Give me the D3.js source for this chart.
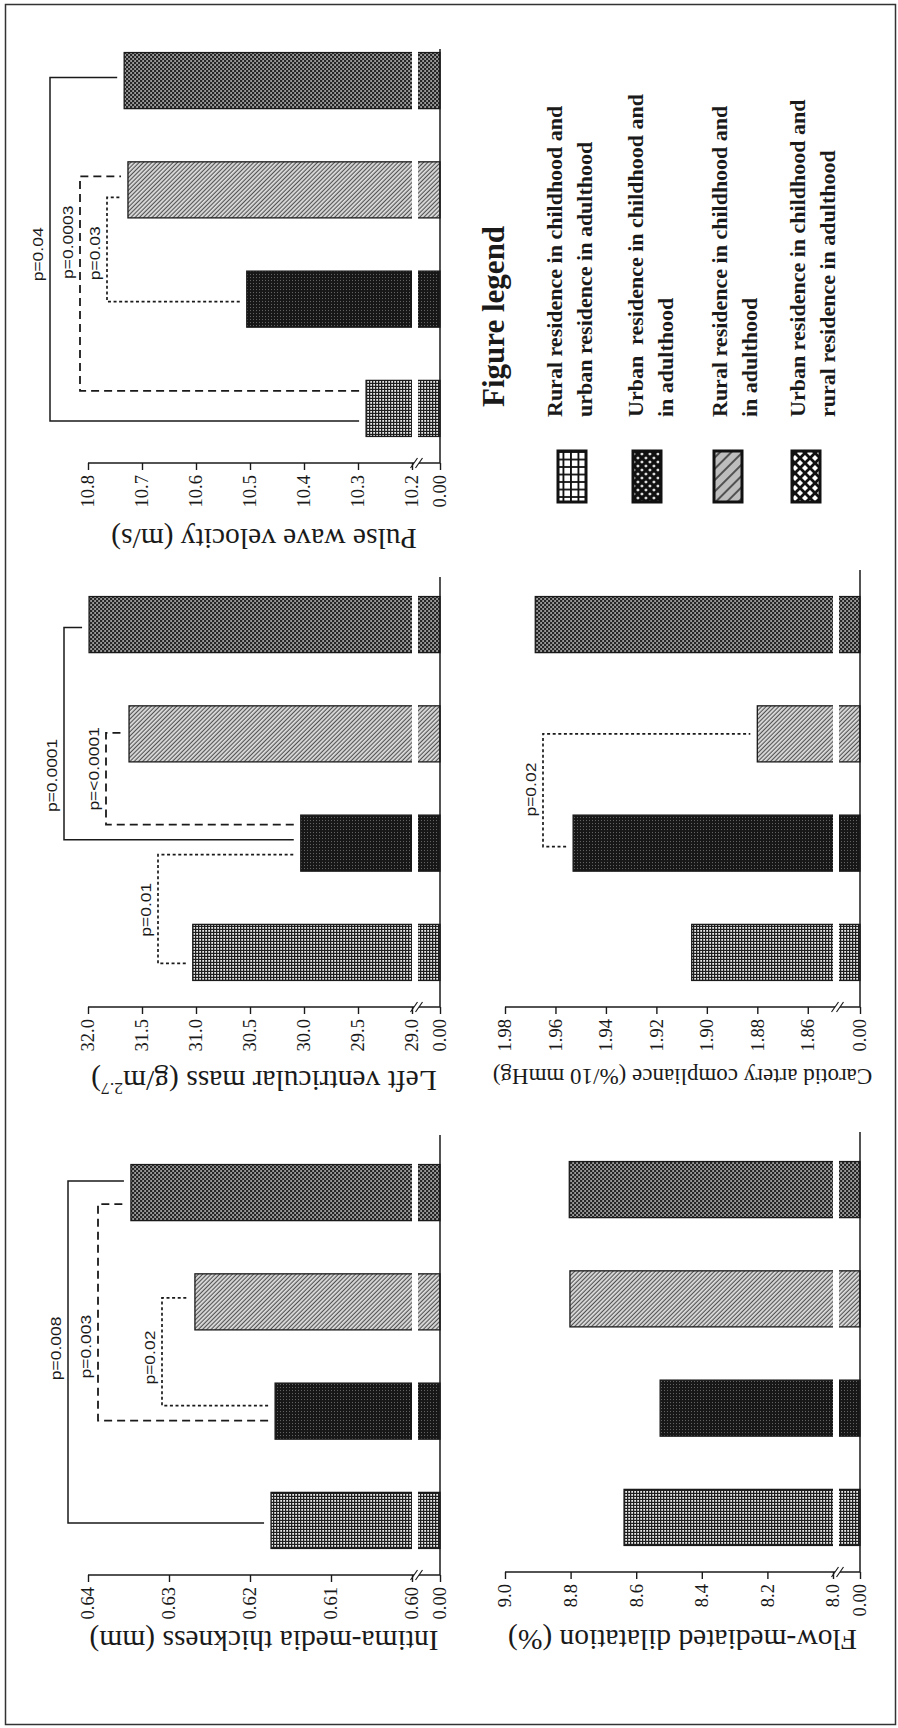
<!DOCTYPE html>
<html>
<head>
<meta charset="utf-8">
<script src="https://cdn.jsdelivr.net/npm/d3@7"></script>
<style>
  body { margin: 0; background: #fff; }
  text { white-space: pre; }
</style>
</head>
<body>
<div id="chart"></div>
<script>
// groups, in bar order
var groups = ["rural-urban", "urban-urban", "rural-rural", "urban-rural"];
var legendLines = [
  ["Rural residence in childhood and", "urban residence in adulthood"],
  ["Urban  residence in childhood and", "in adulthood"],
  ["Rural residence in childhood and", "in adulthood"],
  ["Urban residence in childhood and", "rural residence in adulthood"]
];

// values
var imtValues = [0.6174, 0.6169, 0.6268, 0.6347];
var lvmValues = [31.03, 30.03, 31.62, 31.99];
var pwvValues = [10.285, 10.506, 10.726, 10.733];
var fmdValues = [8.637, 8.527, 8.802, 8.804];
var cacValues = [1.906, 1.953, 1.880, 1.968];

// axis ticks (above the break) and domains
var imtTicks = ["0.60", "0.61", "0.62", "0.63", "0.64"];
var lvmTicks = ["29.0", "29.5", "30.0", "30.5", "31.0", "31.5", "32.0"];
var pwvTicks = ["10.2", "10.3", "10.4", "10.5", "10.6", "10.7", "10.8"];
var fmdTicks = ["8.0", "8.2", "8.4", "8.6", "8.8", "9.0"];
var cacTicks = ["1.86", "1.88", "1.90", "1.92", "1.94", "1.96", "1.98"];
var zeroTick = ["0.00"];
var imtDomain = [0.60, 0.64];
var lvmDomain = [29, 32];
var pwvDomain = [10.2, 10.8];
var fmdDomain = [8.0, 9.0];
var cacDomain = [1.85, 1.98];

// comparisons: bar index a vs b
var imtTests = [
  {a: 0, b: 3, p: "p=0.008", kind: "solid"},
  {a: 1, b: 3, p: "p=0.003", kind: "dashed"},
  {a: 1, b: 2, p: "p=0.02", kind: "dotted"}
];
var lvmTests = [
  {a: 1, b: 3, p: "p=0.0001", kind: "solid"},
  {a: 1, b: 2, p: "p=<0.0001", kind: "dashed"},
  {a: 0, b: 1, p: "p=0.01", kind: "dotted"}
];
var pwvTests = [
  {a: 0, b: 3, p: "p=0.04", kind: "solid"},
  {a: 0, b: 2, p: "p=0.0003", kind: "dashed"},
  {a: 1, b: 2, p: "p=0.03", kind: "dotted"}
];
var fmdTests = [];
var cacTests = [
  {a: 1, b: 2, p: "p=0.02", kind: "dotted"}
];

// ---- layout (the figure is drawn landscape, then turned a quarter left) ----
var W = 898, H = 1728;
var rows = [
  {top: 88, low: 412, base: 440},
  {top: 505, low: 833, base: 860}
];
var bracketLayout = {
  imt: [{level: 68, offA: -2.5, offB: 11.5, at: 1.575},
        {level: 98, offA: -9.5, offB: -11.5, at: 1.59},
        {level: 162, offA: 5.5, offB: 4, at: 1.49}],
  lvm: [{level: 64, offA: 3.5, offB: -3, at: 1.62},
        {level: 106, offA: 18.5, offB: 1, at: 1.68},
        {level: 158, offA: -11, offB: -11.5, at: 0.39}],
  pwv: [{level: 50, offA: -12.5, offB: 3, at: 1.41},
        {level: 80, offA: 17.5, offB: 13.5, at: 1.52},
        {level: 107, offA: -2.5, offB: -7.5, at: 1.42}],
  fmd: [],
  cac: [{level: 543, offA: -3.5, offB: 0, at: 1.49}]
};

var panels = [
  {key: "imt", title: ["Intima-media thickness (mm)"], values: imtValues, ticks: imtTicks, domain: imtDomain, tests: imtTests,
   axisX: 153, row: 0, baseLen: 440, titleGap: 56, titleSize: 29.5},
  {key: "lvm", title: ["Left ventricular mass (g/m", "2.7", ")"], values: lvmValues, ticks: lvmTicks, domain: lvmDomain, tests: lvmTests,
   axisX: 721, row: 0, baseLen: 430, titleGap: 64, titleSize: 29.5},
  {key: "pwv", title: ["Pulse wave velocity (m/s)"], values: pwvValues, ticks: pwvTicks, domain: pwvDomain, tests: pwvTests,
   axisX: 1265, row: 0, baseLen: 414, titleGap: 66, titleSize: 29.5},
  {key: "fmd", title: ["Flow-mediated dilatation (%)"], values: fmdValues, ticks: fmdTicks, domain: fmdDomain, tests: fmdTests,
   axisX: 156, row: 1, baseLen: 440, titleGap: 58, titleSize: 29.5},
  {key: "cac", title: ["Carotid artery compliance (%/10 mmHg)"], values: cacValues, ticks: cacTicks, domain: cacDomain, tests: cacTests,
   axisX: 721, row: 1, baseLen: 437, titleGap: 62, titleSize: 23}
];

var serif = "'Liberation Serif', 'Times New Roman', serif";
var sans = "'Liberation Sans', Arial, sans-serif";
var ink = "#1a1a1a";
var dashes = {solid: null, dashed: "8,5", dotted: "3,2.6"};
var dashWidth = {solid: 1.5, dashed: 1.8, dotted: 1.7};

var svg = d3.select("#chart").append("svg").attr("width", W).attr("height", H);
var defs = svg.append("defs");

function pattern(id, w, h, bg, draw, transform) {
  var p = defs.append("pattern").attr("id", id)
    .attr("patternUnits", "userSpaceOnUse").attr("width", w).attr("height", h);
  if (transform) p.attr("patternTransform", transform);
  p.append("rect").attr("width", w).attr("height", h).attr("fill", bg);
  draw(p);
}

// fine fills for the bars
pattern("bar-grid", 3, 3, "#ececec", function(p) {
  p.append("path").attr("d", "M0,0.6H3M0.6,0V3").attr("stroke", "#1f1f1f").attr("stroke-width", 1.2);
});
pattern("bar-dark", 3, 3, "#171717", function(p) {
  p.append("circle").attr("cx", 1.5).attr("cy", 1.5).attr("r", 0.6).attr("fill", "#707070");
});
pattern("bar-hatch", 3, 3, "#e0e0e0", function(p) {
  p.append("line").attr("x1", 0.6).attr("x2", 0.6).attr("y1", 0).attr("y2", 3).attr("stroke", "#505050").attr("stroke-width", 1.15);
}, "rotate(-45)");
pattern("bar-dots", 4, 4, "#262626", function(p) {
  p.append("circle").attr("cx", 1).attr("cy", 1).attr("r", 0.85).attr("fill", "#f4f4f4");
  p.append("circle").attr("cx", 3).attr("cy", 3).attr("r", 0.85).attr("fill", "#f4f4f4");
});

// coarse fills for the legend keys
pattern("lg-grid", 7.5, 7.5, "#fff", function(p) {
  p.append("path").attr("d", "M0,1H7.5M1,0V7.5").attr("stroke", "#111").attr("stroke-width", 1.8);
});
pattern("lg-dark", 8, 8, "#111", function(p) {
  p.append("circle").attr("cx", 2).attr("cy", 2).attr("r", 1.4).attr("fill", "#ddd");
  p.append("circle").attr("cx", 6).attr("cy", 6).attr("r", 1.4).attr("fill", "#ddd");
});
pattern("lg-hatch", 8, 8, "#bdbdbd", function(p) {
  p.append("line").attr("x1", 1).attr("x2", 1).attr("y1", 0).attr("y2", 8).attr("stroke", "#222").attr("stroke-width", 1.4);
}, "rotate(-45)");
pattern("lg-cross", 10, 10, "#fff", function(p) {
  p.append("path").attr("d", "M0,0L10,10M10,0L0,10").attr("stroke", "#111").attr("stroke-width", 2.8);
});

var barFills = ["bar-grid", "bar-dark", "bar-hatch", "bar-dots"];
var keyFills = ["lg-grid", "lg-dark", "lg-hatch", "lg-cross"];

// frame
svg.append("rect").attr("x", 5.5).attr("y", 4.5).attr("width", W - 8).attr("height", H - 8)
  .attr("fill", "none").attr("stroke", "#333").attr("stroke-width", 1.5);

var fig = svg.append("g").attr("transform", "translate(0," + H + ") rotate(-90)");

function styleAxis(a) {
  a.selectAll(".domain").remove();
  a.attr("font-family", null).attr("font-size", null);
  a.selectAll("line").attr("stroke", ink).attr("stroke-width", 1.4);
  a.selectAll("text").attr("fill", ink)
    .style("font-family", serif).style("font-size", "18.5px");
}

panels.forEach(function(P) {
  var row = rows[P.row];
  var g = fig.append("g").attr("class", "panel-" + P.key);

  var x = d3.scaleBand().domain(groups)
    .range([P.axisX, P.axisX + 437]).paddingInner(0.487).paddingOuter(0.243);
  var y = d3.scaleLinear().domain(P.domain).range([row.low, row.top]);
  var zero = d3.scaleLinear().domain([0, 1]).range([row.base, row.base - 1]);

  // bars
  g.selectAll("rect.bar").data(P.values).join("rect").attr("class", "bar")
    .attr("x", function(d, i) { return x(groups[i]); })
    .attr("width", x.bandwidth())
    .attr("y", function(d) { return y(d); })
    .attr("height", function(d) { return row.base - y(d); })
    .attr("fill", function(d, i) { return "url(#" + barFills[i] + ")"; })
    .attr("stroke", ink).attr("stroke-width", 1.3);

  // white cut across each bar at the axis break
  g.selectAll("rect.cut").data(P.values).join("rect").attr("class", "cut")
    .attr("x", function(d, i) { return x(groups[i]) - 2; })
    .attr("width", x.bandwidth() + 4)
    .attr("y", row.low).attr("height", 6).attr("fill", "#fff");

  // baseline and value axis
  g.append("line").attr("x1", P.axisX).attr("x2", P.axisX + P.baseLen)
    .attr("y1", row.base).attr("y2", row.base).attr("stroke", ink).attr("stroke-width", 1.5);
  g.append("line").attr("x1", P.axisX).attr("x2", P.axisX)
    .attr("y1", row.top).attr("y2", row.base).attr("stroke", ink).attr("stroke-width", 1.5);

  g.append("g").attr("transform", "translate(" + P.axisX + ",0)")
    .call(d3.axisLeft(y).tickValues(P.ticks.map(Number))
      .tickFormat(function(d, i) { return P.ticks[i]; })
      .tickSize(7).tickPadding(5).tickSizeOuter(0))
    .call(styleAxis);
  g.append("g").attr("transform", "translate(" + P.axisX + ",0)")
    .call(d3.axisLeft(zero).tickValues([0]).tickFormat(function() { return zeroTick[0]; })
      .tickSize(7).tickPadding(5).tickSizeOuter(0))
    .call(styleAxis);

  // axis break
  g.append("rect").attr("x", P.axisX - 3).attr("y", row.low + 2).attr("width", 6).attr("height", 5).attr("fill", "#fff");
  [row.low + 2, row.low + 7].forEach(function(b) {
    g.append("line").attr("x1", P.axisX - 5).attr("x2", P.axisX + 5)
      .attr("y1", b - 3.5).attr("y2", b + 3.5).attr("stroke", ink).attr("stroke-width", 1.2);
  });

  // axis title
  var t = g.append("text")
    .attr("transform", "translate(" + (P.axisX - P.titleGap) + "," + ((row.top + row.base) / 2) + ") rotate(-90)")
    .attr("text-anchor", "middle").attr("font-family", serif).attr("font-size", P.titleSize).attr("fill", ink);
  t.append("tspan").text(P.title[0]);
  if (P.title.length > 1) {
    t.append("tspan").attr("font-size", P.titleSize * 0.6).attr("dy", -P.titleSize * 0.4).text(P.title[1]);
    t.append("tspan").attr("dy", P.titleSize * 0.4).text(P.title[2]);
  }

  // significance brackets
  var step = x.step(), c0 = x(groups[0]) + x.bandwidth() / 2;
  P.tests.forEach(function(T, k) {
    var L = bracketLayout[P.key][k];
    var xa = x(groups[T.a]) + x.bandwidth() / 2 + L.offA;
    var xb = x(groups[T.b]) + x.bandwidth() / 2 + L.offB;
    var ya = y(P.values[T.a]) - 7, yb = y(P.values[T.b]) - 7;
    g.append("path")
      .attr("d", "M" + xa + "," + ya + "V" + L.level + "H" + xb + "V" + yb)
      .attr("fill", "none").attr("stroke", ink)
      .attr("stroke-width", dashWidth[T.kind])
      .attr("stroke-dasharray", dashes[T.kind]);
    g.append("text")
      .attr("transform", "translate(" + (c0 + L.at * step) + "," + (L.level - 7) + ") scale(1.25,1)")
      .attr("text-anchor", "middle").attr("font-family", sans).attr("font-size", 14).attr("fill", ink)
      .text(T.p);
  });
});

// legend
var legend = fig.append("g").attr("class", "legend");
legend.append("text").attr("x", 1321).attr("y", 503.5)
  .attr("font-family", serif).attr("font-weight", "bold").attr("font-size", 31).attr("fill", ink)
  .text("Figure legend");

var keyTop = [558, 633, 714, 792];
var lineBase = [562, 643, 727, 805];
var item = legend.selectAll("g.item").data(legendLines).join("g").attr("class", "item");
item.append("rect")
  .attr("x", 1226).attr("width", 51)
  .attr("y", function(d, i) { return keyTop[i]; }).attr("height", 28)
  .attr("fill", function(d, i) { return "url(#" + keyFills[i] + ")"; })
  .attr("stroke", "#111").attr("stroke-width", 3);
item.each(function(lines, i) {
  d3.select(this).selectAll("text").data(lines).join("text")
    .attr("x", 1311).attr("y", function(d, j) { return lineBase[i] + j * 30; })
    .attr("font-family", serif).attr("font-weight", "bold").attr("font-size", 22).attr("fill", ink)
    .text(function(d) { return d; });
});
</script>
</body>
</html>
